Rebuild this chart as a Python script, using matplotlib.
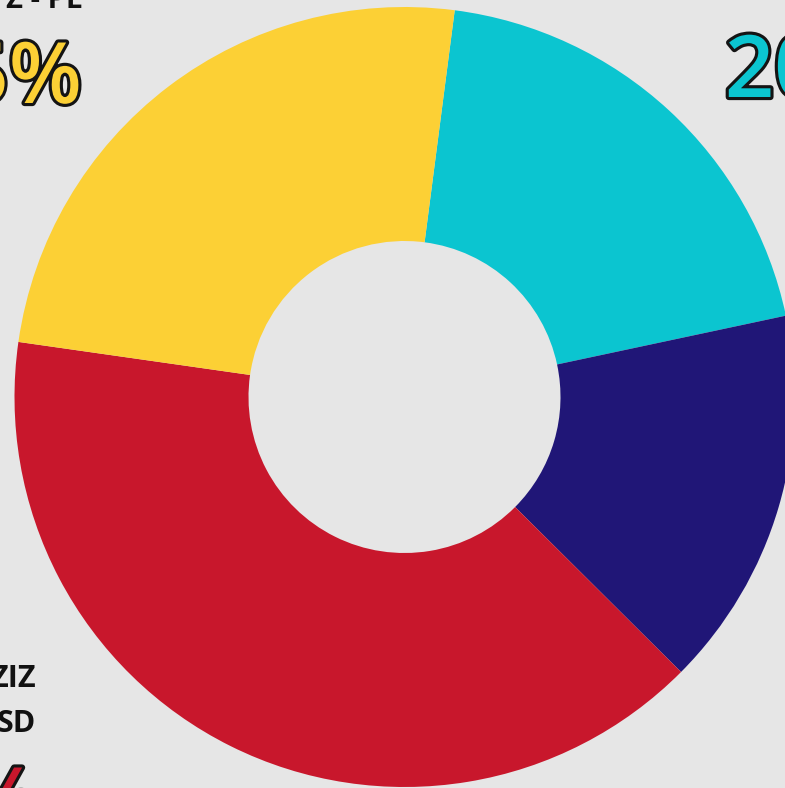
import matplotlib
matplotlib.use("Agg")
import matplotlib.pyplot as plt
import matplotlib.patheffects as pe

# Data (clockwise from the top)
parties = ["Cyan party", "Navy party", "ZIZ SD", "Z - PL"]
shares = [19.6, 15.8, 39.8, 24.8]
colors = ["#0BC5D0", "#201677", "#C8172C", "#FCD035"]

BG = "#E6E6E6"
W, H = 785, 788

fig = plt.figure(figsize=(W / 100, H / 100), dpi=100, facecolor=BG)
ax = fig.add_axes([0, 0, 1, 1])
ax.set_facecolor(BG)

cx, cy = 404.5, H - 397
R_out, R_in = 390, 156
ax.pie(shares, colors=colors, startangle=82.6, counterclock=False,
       center=(cx, cy), radius=R_out,
       wedgeprops=dict(width=R_out - R_in, edgecolor="none", linewidth=0))

ax.set_xlim(0, W)
ax.set_ylim(0, H)
ax.set_aspect("equal")
ax.axis("off")

font = "Open Sans"
stroke = [pe.withStroke(linewidth=4.5, foreground="#141414")]

def pct(v):
    return f"{round(v)}%"

# Yellow (Z - PL) label, top left
ax.text(82, H - 8, "Z - PL", ha="right", va="baseline", fontsize=21,
        fontweight="bold", family=font, color="#111111")
ax.text(82, H - 103, pct(shares[3]), ha="right", va="baseline", fontsize=61,
        fontweight="semibold", family=font, color=colors[3], path_effects=stroke)

# Cyan label, top right
ax.text(725, H - 97, pct(shares[0]), ha="left", va="baseline", fontsize=62,
        fontweight="semibold", family=font, color=colors[0], path_effects=stroke)

# Red label, bottom left
ax.text(36, H - 687, "ZIZ", ha="right", va="baseline", fontsize=22,
        fontweight="bold", family=font, color="#111111")
ax.text(36, H - 732, "SD", ha="right", va="baseline", fontsize=22,
        fontweight="bold", family=font, color="#111111")
ax.text(38, H - 828, pct(shares[2]), ha="right", va="baseline", fontsize=61,
        fontweight="semibold", family=font, color=colors[2], path_effects=stroke)

fig.savefig("out.png", dpi=100, facecolor=BG)
